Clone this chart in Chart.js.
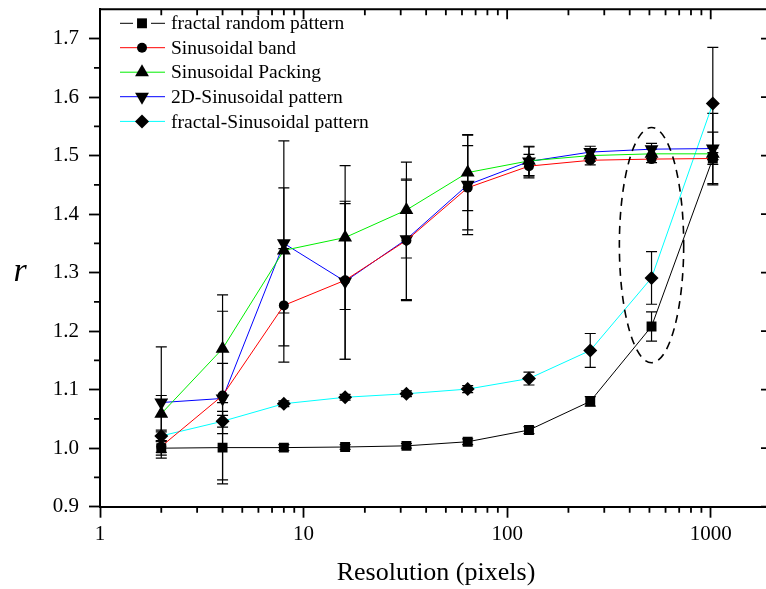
<!DOCTYPE html>
<html><head><meta charset="utf-8">
<script src="https://cdn.jsdelivr.net/npm/chart.js@4/dist/chart.umd.min.js"></script>
<style>
html,body{margin:0;padding:0;overflow:hidden;background:#fff;width:766px;height:589px}
#wrap{width:780px;height:589px}
</style>
</head><body><div id="wrap"><canvas id="c" width="780" height="589"></canvas></div>
<script>
const resolutions = [2, 4, 8, 16, 32, 64, 128, 256, 512, 1024];
const fractalRandom    = [1.000, 1.001, 1.001, 1.002, 1.004, 1.011, 1.031, 1.080, 1.208, 1.495];
const fractalRandomErr = [0.012, 0.062, 0.005, 0.004, 0.004, 0.005, 0.006, 0.008, 0.025, 0.045];
const sinBand          = [1.003, 1.090, 1.244, 1.287, 1.355, 1.445, 1.482, 1.492, 1.494, 1.495];
const sinBandErr       = [0.010, 0.144, 0.097, 0.135, 0.103, 0.072, 0.020, 0.008, 0.006, 0.010];
const sinPacking       = [1.059, 1.170, 1.338, 1.360, 1.407, 1.471, 1.491, 1.500, 1.503, 1.503];
const sinPackingErr    = [0.031, 0.092, 0.107, 0.123, 0.082, 0.065, 0.025, 0.010, 0.008, 0.010];
const sin2D            = [1.078, 1.085, 1.350, 1.285, 1.357, 1.450, 1.490, 1.506, 1.511, 1.512];
const sin2DErr         = [0.095, 0.060, 0.175, 0.133, 0.103, 0.085, 0.025, 0.010, 0.010, 0.060];
const fractalSin       = [1.021, 1.046, 1.076, 1.087, 1.093, 1.101, 1.119, 1.167, 1.291, 1.589];
const fractalSinErr    = [0.010, 0.010, 0.005, 0.005, 0.005, 0.006, 0.011, 0.029, 0.045, 0.096];
const seriesLabels = ['fractal random pattern', 'Sinusoidal band', 'Sinusoidal Packing', '2D-Sinusoidal pattern', 'fractal-Sinusoidal pattern'];
const xTicks = [1, 10, 100, 1000];
const yTicks = [0.9, 1.0, 1.1, 1.2, 1.3, 1.4, 1.5, 1.6, 1.7];
const xTitle = 'Resolution (pixels)';
const yTitle = 'r';
const ellipseMark = {x: 512, halfDecades: 0.158, y: 1.347, halfY: 0.201};

const SERIF = '"Liberation Serif", "Times New Roman", serif';
const values = [fractalRandom, sinBand, sinPacking, sin2D, fractalSin];
const errors = [fractalRandomErr, sinBandErr, sinPackingErr, sin2DErr, fractalSinErr];
const lineColors = ['#000000', '#ff0000', '#00ee00', '#0000ff', '#00ffff'];
const styles = [
  {pointStyle: 'rect', radius: 7, rotation: 0},
  {pointStyle: 'circle', radius: 5, rotation: 0},
  {pointStyle: 'triangle', radius: 8, rotation: 0},
  {pointStyle: 'triangle', radius: 8, rotation: 180},
  {pointStyle: 'rectRot', radius: 7, rotation: 0}
];

const datasets = values.map((arr, k) => ({
  label: seriesLabels[k],
  data: resolutions.map((x, i) => ({x: x, y: arr[i]})),
  borderColor: lineColors[k],
  borderWidth: 1,
  backgroundColor: '#000',
  pointBackgroundColor: '#000',
  pointBorderColor: '#000',
  pointBorderWidth: 0,
  pointStyle: styles[k].pointStyle,
  pointRadius: styles[k].radius,
  pointRotation: styles[k].rotation,
  tension: 0,
  fill: false
}));

function drawMarker(ctx, st, x, y) {
  if (Chart.helpers && Chart.helpers.drawPoint) {
    ctx.save();
    ctx.fillStyle = '#000'; ctx.strokeStyle = '#000'; ctx.lineWidth = 0.01;
    Chart.helpers.drawPoint(ctx, {pointStyle: st.pointStyle, rotation: st.rotation, radius: st.radius, borderWidth: 0}, x, y);
    ctx.restore();
  }
}

const decor = {
  id: 'decor',
  beforeDatasetsDraw(chart) {
    const ctx = chart.ctx, xs = chart.scales.x, ys = chart.scales.y;
    ctx.save();
    ctx.strokeStyle = '#000';
    ctx.lineWidth = 1.2;
    values.forEach((arr, k) => {
      arr.forEach((v, i) => {
        const e = errors[k][i];
        const px = xs.getPixelForValue(resolutions[i]);
        const y1 = ys.getPixelForValue(v + e), y2 = ys.getPixelForValue(v - e);
        ctx.beginPath();
        ctx.moveTo(px, y1); ctx.lineTo(px, y2);
        ctx.moveTo(px - 5.5, y1); ctx.lineTo(px + 5.5, y1);
        ctx.moveTo(px - 5.5, y2); ctx.lineTo(px + 5.5, y2);
        ctx.stroke();
      });
    });
    ctx.restore();
  },
  afterDatasetsDraw(chart) {
    const ctx = chart.ctx, xs = chart.scales.x, ys = chart.scales.y;
    const cx = xs.getPixelForValue(ellipseMark.x);
    const rx = xs.getPixelForValue(ellipseMark.x * Math.pow(10, ellipseMark.halfDecades)) - cx;
    const cy = ys.getPixelForValue(ellipseMark.y);
    const ry = cy - ys.getPixelForValue(ellipseMark.y + ellipseMark.halfY);
    ctx.save();
    ctx.strokeStyle = '#000';
    ctx.lineWidth = 1.6;
    ctx.setLineDash([8, 6]);
    ctx.beginPath();
    ctx.ellipse(cx, cy, rx, ry, 0, 0, Math.PI * 2);
    ctx.stroke();
    ctx.restore();
  },
  afterDraw(chart) {
    const ctx = chart.ctx, xs = chart.scales.x, ys = chart.scales.y;
    const a = chart.chartArea;
    ctx.save();
    ctx.strokeStyle = '#000';
    ctx.lineWidth = 2;
    ctx.beginPath();
    ctx.moveTo(a.left, a.top); ctx.lineTo(a.right, a.top); ctx.lineTo(a.right, a.bottom);
    ctx.stroke();
    ctx.lineWidth = 1.8;
    ctx.beginPath();
    xTicks.forEach(d => {
      const p = xs.getPixelForValue(d);
      ctx.moveTo(p, a.top); ctx.lineTo(p, a.top + 10);
      for (let m = 2; m <= 9; m++) {
        const v = m * d;
        if (v > xs.max) continue;
        const q = xs.getPixelForValue(v);
        ctx.moveTo(q, a.bottom); ctx.lineTo(q, a.bottom + 6);
        ctx.moveTo(q, a.top); ctx.lineTo(q, a.top + 6);
      }
    });
    yTicks.forEach(v => {
      const p = ys.getPixelForValue(v);
      ctx.moveTo(a.right, p); ctx.lineTo(a.right - 11, p);
      const q = ys.getPixelForValue(v + 0.05);
      if (v + 0.05 < ys.max - 1e-6) {
        ctx.moveTo(a.left - 6, q); ctx.lineTo(a.left, q);
        ctx.moveTo(a.right - 6, q); ctx.lineTo(a.right, q);
      }
    });
    ctx.stroke();
    ctx.fillStyle = '#000';
    ctx.font = 'italic 34px ' + SERIF;
    ctx.textAlign = 'center';
    ctx.textBaseline = 'alphabetic';
    ctx.fillText(yTitle, 20, 281);
    const lx0 = 120, lx1 = 165, mx = 142, tx = 171;
    const rows = [23.3, 47.7, 72.2, 96.7, 121.4];
    ctx.font = '19.5px ' + SERIF;
    ctx.textAlign = 'left';
    ctx.textBaseline = 'middle';
    seriesLabels.forEach((lab, k) => {
      const y = rows[k];
      ctx.strokeStyle = lineColors[k];
      ctx.lineWidth = 1;
      ctx.setLineDash([]);
      ctx.beginPath();
      if (k === 0) {
        ctx.moveTo(lx0, y); ctx.lineTo(mx - 9, y);
        ctx.moveTo(mx + 9, y); ctx.lineTo(lx1, y);
      } else {
        ctx.moveTo(lx0, y); ctx.lineTo(lx1, y);
      }
      ctx.stroke();
      drawMarker(ctx, styles[k], mx, y);
      ctx.fillStyle = '#000';
      ctx.fillText(lab, tx, y + 1);
    });
    ctx.restore();
  }
};

new Chart(document.getElementById('c'), {
  type: 'line',
  data: {datasets: datasets},
  plugins: [decor],
  options: {
    responsive: false,
    animation: false,
    events: [],
    layout: {padding: {top: 9.3, right: 8, bottom: 0, left: 0}},
    plugins: {legend: {display: false}, tooltip: {enabled: false}},
    scales: {
      x: {
        type: 'logarithmic',
        min: 1, max: 2000,
        afterBuildTicks: s => { s.ticks = xTicks.map(v => ({value: v, major: true})); },
        afterFit: s => { s.height = 82.3; s.paddingLeft = 0; s.paddingRight = 0; },
        ticks: {
          color: '#000', font: {family: SERIF, size: 21}, padding: 4,
          maxRotation: 0, autoSkip: false,
          callback: v => String(v)
        },
        grid: {display: true, drawOnChartArea: false, drawTicks: true, tickLength: 11, tickWidth: 1.8, tickColor: '#000'},
        border: {display: true, color: '#000', width: 2},
        title: {display: true, text: xTitle, color: '#000', font: {family: SERIF, size: 26}, padding: {top: 0, bottom: 0}}
      },
      y: {
        type: 'linear',
        min: 0.9, max: 1.75,
        afterBuildTicks: s => { s.ticks = yTicks.map(v => ({value: v})); },
        afterFit: s => { s.width = 100; s.paddingTop = 0; s.paddingBottom = 0; },
        ticks: {
          color: '#000', font: {family: SERIF, size: 21}, padding: 10,
          callback: v => Number(v).toFixed(1)
        },
        grid: {display: true, drawOnChartArea: false, drawTicks: true, tickLength: 11, tickWidth: 1.8, tickColor: '#000'},
        border: {display: true, color: '#000', width: 2}
      }
    }
  }
});
</script>
</body></html>
